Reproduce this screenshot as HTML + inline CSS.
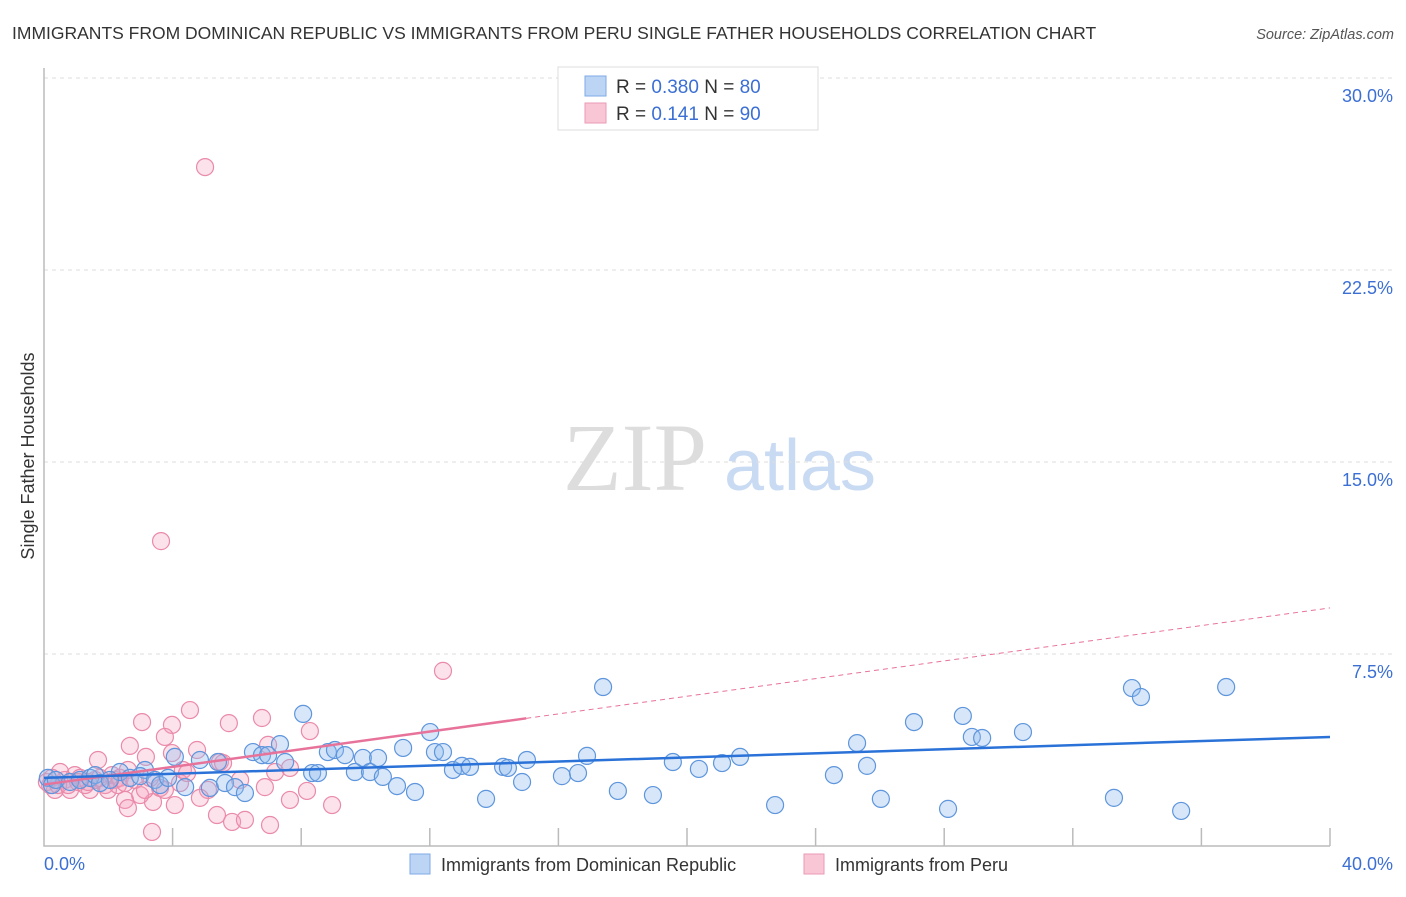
<!DOCTYPE html>
<html><head><meta charset="utf-8"><style>
body{margin:0;background:#fff;font-family:"Liberation Sans",sans-serif}
</style></head><body>
<svg id="c" width="1406" height="892" xmlns="http://www.w3.org/2000/svg">
<text x="12" y="39" font-size="17.5" fill="#333">IMMIGRANTS FROM DOMINICAN REPUBLIC VS IMMIGRANTS FROM PERU SINGLE FATHER HOUSEHOLDS CORRELATION CHART</text>
<text x="1394" y="39" font-size="14.5" fill="#555" font-style="italic" text-anchor="end">Source: ZipAtlas.com</text>
<text x="635" y="490" font-size="96" fill="#ddd" font-family="Liberation Serif,serif" text-anchor="middle">ZIP</text>
<text x="800" y="490" font-size="72" fill="#c9daf3" text-anchor="middle">atlas</text>
<text transform="translate(34,456) rotate(-90)" font-size="18" fill="#333" text-anchor="middle">Single Father Households</text>
<g id="grid"></g><g id="marks"></g>
<g>
<rect x="558" y="67" width="260" height="63" fill="#fff" stroke="#ddd"/>
<rect x="585" y="76" width="21" height="20" fill="#bcd5f5" stroke="#7eaae6"/>
<rect x="585" y="103" width="21" height="20" fill="#f9c6d6" stroke="#eb9bb5"/>
<text x="616" y="93" font-size="19" fill="#333">R = <tspan fill="#3b6fd4">0.380</tspan>   N = <tspan fill="#3b6fd4">80</tspan></text>
<text x="616" y="120" font-size="19" fill="#333">R =   <tspan fill="#3b6fd4">0.141</tspan>   N = <tspan fill="#3b6fd4">90</tspan></text>
</g>
<g>
<rect x="410" y="854" width="20" height="20" fill="#bcd5f5" stroke="#7eaae6"/>
<text x="441" y="871" font-size="18" fill="#333">Immigrants from Dominican Republic</text>
<rect x="804" y="854" width="20" height="20" fill="#f9c6d6" stroke="#eb9bb5"/>
<text x="835" y="871" font-size="18" fill="#333">Immigrants from Peru</text>
</g>
</svg>
<script>
const yTicks=[7.5,15,22.5,30];
const yTickLabels=["7.5%","15.0%","22.5%","30.0%"];
const xTicks=[4,8,12,16,20,24,28,32,36,40];
const blueX=[0.12,0.25,2.36,3.14,4.07,4.39,4.85,5.16,5.41,5.63,5.94,6.25,6.50,6.78,6.97,7.34,7.50,8.06,8.34,8.52,8.83,9.05,9.36,9.67,9.92,10.14,10.39,10.54,10.98,11.17,11.54,12.01,12.16,12.41,12.72,13.00,13.25,13.75,14.28,14.43,14.87,15.02,16.11,16.61,16.89,17.39,17.85,18.94,19.56,20.37,21.09,21.65,22.74,24.57,25.29,25.60,26.03,27.06,28.12,28.58,28.86,29.18,30.45,33.28,33.84,34.12,35.37,36.77,0.37,0.81,1.12,1.43,1.59,1.74,2.05,2.67,2.99,3.45,3.61,3.86];
const blueY=[2.66,2.38,2.89,2.97,3.48,2.30,3.36,2.27,3.28,2.46,2.30,2.07,3.67,3.55,3.55,3.98,3.28,5.16,2.85,2.85,3.67,3.75,3.55,2.89,3.44,2.89,3.44,2.70,2.34,3.83,2.11,4.45,3.67,3.67,2.97,3.13,3.09,1.84,3.09,3.05,2.50,3.36,2.73,2.85,3.52,6.21,2.15,1.99,3.28,3.01,3.24,3.48,1.60,2.77,4.02,3.13,1.84,4.84,1.45,5.08,4.26,4.22,4.45,1.88,6.17,5.82,1.37,6.21,2.58,2.50,2.58,2.66,2.77,2.46,2.58,2.66,2.73,2.58,2.38,2.66];
const pinkX=[5.01,3.64,12.41,4.54,3.05,3.98,5.75,6.78,8.27,2.67,3.76,1.68,3.98,4.76,4.32,5.47,5.57,6.97,7.19,7.65,3.17,5.10,6.10,6.87,8.18,2.52,2.61,3.39,4.07,3.36,5.38,5.85,6.25,7.03,8.96,7.65,4.85,2.99,2.21,1.90,1.43,0.96,0.65,0.34,0.19,1.28,1.59,2.12,2.36,2.83,3.14,3.61,4.23,4.45,2.61,0.50,0.81,1.12,1.74,1.99,0.09,0.25,0.44,0.75,1.06,1.37,2.30,2.52,3.30,3.76];
const pinkY=[26.52,11.91,6.84,5.31,4.84,4.73,4.80,5.00,4.49,3.91,4.26,3.36,3.63,3.75,2.97,3.28,3.24,3.95,2.89,3.05,3.48,2.19,2.58,2.30,2.15,1.80,1.48,1.72,1.60,0.55,1.21,0.94,1.02,0.82,1.60,1.80,1.88,1.99,2.58,2.38,2.19,2.77,2.58,2.19,2.38,2.38,2.58,2.77,2.66,2.58,2.19,2.27,2.46,2.85,2.97,2.89,2.19,2.66,2.66,2.19,2.50,2.66,2.38,2.38,2.50,2.50,2.38,2.46,2.66,2.19];
const blueTrend=[2.66,4.26];
const pinkTrend=[2.4,9.3];
const pinkSolidEnd=15;
const NS="http://www.w3.org/2000/svg";
const X=v=>44+v/40*1286, Y=v=>846-v/7.5*192;
const grid=document.getElementById('grid'), marks=document.getElementById('marks');
function mk(p,tag,a){const e=document.createElementNS(NS,tag);for(const k in a)e.setAttribute(k,a[k]);p.appendChild(e);return e;}
yTicks.forEach((t,i)=>{
 const l=mk(grid,'line',{x1:44,x2:1395,y1:Y(t),y2:Y(t),stroke:'#ddd','stroke-dasharray':'4,4'});
 
 
 const tx=mk(grid,'text',{x:1393,y:Y(t)+24,'font-size':18,fill:'#3b6fd4','text-anchor':'end'});
 tx.textContent=yTickLabels[i];
 
 
});
const ax=mk(grid,'path',{d:'M44,68V846H1330',fill:'none',stroke:'#bbb','stroke-width':1.5});


xTicks.forEach(t=>{
 const l=mk(grid,'line',{x1:X(t),x2:X(t),y1:828,y2:846,stroke:'#bbb','stroke-width':1.5});
 
 
});
const x0=mk(grid,'text',{x:44,y:870,'font-size':18,fill:'#3b6fd4'});x0.textContent='0.0%';


const x1=mk(grid,'text',{x:1393,y:870,'font-size':18,fill:'#3b6fd4','text-anchor':'end'});x1.textContent='40.0%';


pinkX.forEach((v,i)=>{
 const c=mk(marks,'circle',{cx:X(v),cy:Y(pinkY[i]),r:8.5,fill:'rgba(244,160,188,0.3)',stroke:'#ea8aa9','stroke-width':1.2});
 
 
});
blueX.forEach((v,i)=>{
 const c=mk(marks,'circle',{cx:X(v),cy:Y(blueY[i]),r:8.5,fill:'rgba(140,185,238,0.35)',stroke:'#5e95dc','stroke-width':1.2});
 
 
});
const pAt=x=>pinkTrend[0]+(pinkTrend[1]-pinkTrend[0])*x/40;
const pd=mk(marks,'line',{x1:X(pinkSolidEnd),y1:Y(pAt(pinkSolidEnd)),x2:X(40),y2:Y(pinkTrend[1]),stroke:'#e8739a','stroke-width':1,'stroke-dasharray':'5,4'});


const ps=mk(marks,'line',{x1:X(0),y1:Y(pinkTrend[0]),x2:X(pinkSolidEnd),y2:Y(pAt(pinkSolidEnd)),stroke:'#e8739a','stroke-width':2.5});


const bt=mk(marks,'line',{x1:X(0),y1:Y(blueTrend[0]),x2:X(40),y2:Y(blueTrend[1]),stroke:'#2a72d8','stroke-width':2.5});


</script>
</body></html>
